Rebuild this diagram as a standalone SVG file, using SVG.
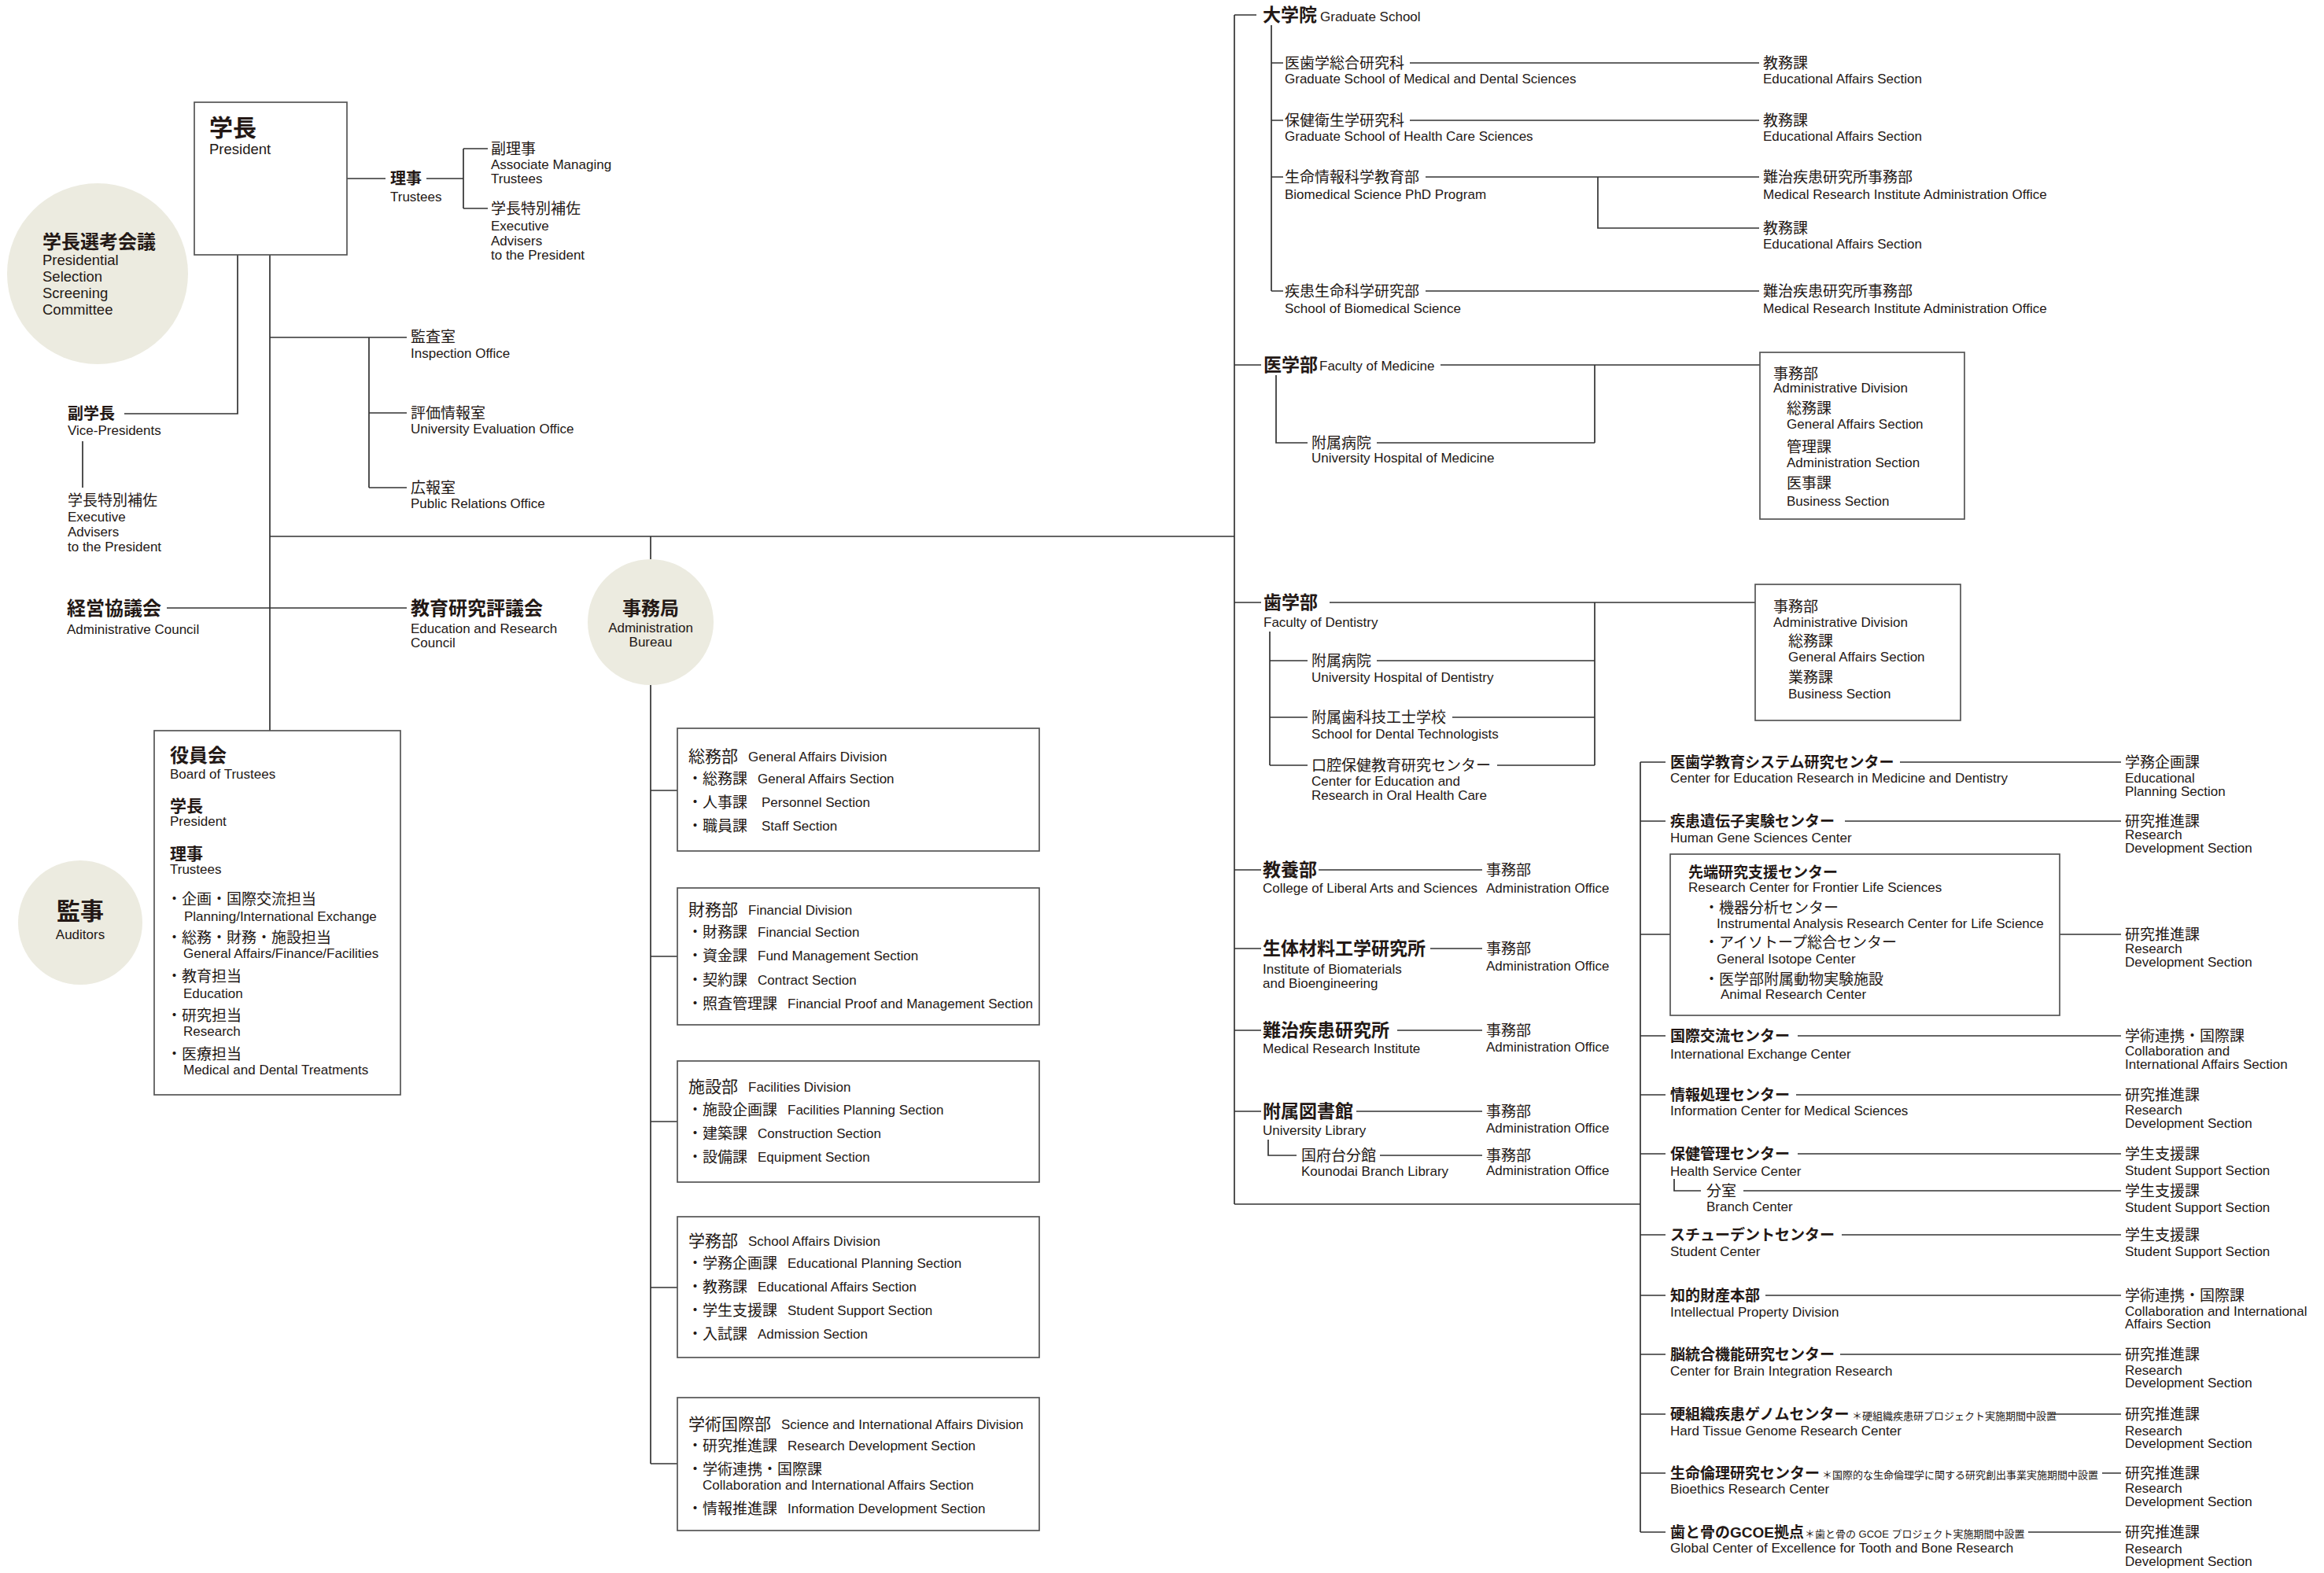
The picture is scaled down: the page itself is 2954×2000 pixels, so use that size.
<svg xmlns="http://www.w3.org/2000/svg" width="2954" height="2000" viewBox="0 0 2954 2000">
<style>
text{font-family:"Liberation Sans","Noto Sans CJK JP",sans-serif;fill:#231815;dominant-baseline:central;font-size:19px}
.e{font-size:17px}
.b{font-weight:bold}
.n{font-size:13px}
.m{text-anchor:middle}
.ln{stroke:#333;stroke-width:1.7;fill:none}
.bx{fill:#fff;stroke:#555;stroke-width:1.7}
.c{fill:#ecebe0}
</style>
<rect width="2954" height="2000" fill="#fff"/>
<g id="connectors">
<path class="ln" d="M441 227H490M542 227H589M589 189V265M589 189H620M589 265H620"/>
<path class="ln" d="M302 324V526H158M105 561V620"/>
<path class="ln" d="M343 324V929M343 429H517M469 429V620M469 525H517M469 620H517"/>
<path class="ln" d="M343 682H1569M212 773H517"/>
<path class="ln" d="M827 682V711M827 870V1861M827 1005H861M827 1216H861M827 1426H861M827 1637H861M827 1861H861"/>
<path class="ln" d="M1569 19V1531M1569 19H1597M1616 32V370M1616 80H1631M1616 153H1631M1616 225H1631M1616 370H1631"/>
<path class="ln" d="M1792 80H2236M1792 153H2236M1812 225H2236M2031 225V290H2236M1812 370H2236"/>
<path class="ln" d="M1569 464H1603M1831 464H2237M2027 464V563M1750 563H2027M1622 477V563H1662"/>
<path class="ln" d="M1569 766H1603M1690 766H2231M2027 766V973M1614 803V973M1614 840H1662M1614 912H1662M1614 973H1662M1750 840H2027M1846 912H2027M1903 973H2027"/>
<path class="ln" d="M1569 1106H1603M1676 1106H1884M1569 1206H1603M1818 1206H1884M1569 1310H1603M1776 1310H1884M1569 1413H1603M1724 1413H1884M1612 1449V1469H1648M1754 1469H1884"/>
<path class="ln" d="M1569 1531H2085M2085 969V1948"/>
<path class="ln" d="M2085 969H2117M2415 969H2696M2085 1044H2117M2345 1044H2696M2085 1188H2123M2618 1188H2696M2085 1317H2117M2285 1317H2696M2085 1392H2117M2283 1392H2696M2085 1467H2117M2285 1467H2696M2128 1499V1514H2162M2216 1514H2696M2085 1570H2117M2341 1570H2696M2085 1647H2117M2244 1647H2696M2085 1722H2117M2339 1722H2696M2085 1798H2117M2610 1798H2696M2085 1873H2117M2672 1873H2696M2085 1948H2117M2578 1948H2696"/>
</g>
<g id="president"><rect class="bx" x="247" y="130" width="194" height="194"/><text class="b" x="266" y="162" style="font-size:30px">学長</text><text x="266" y="189" style="font-size:18.5px">President</text></g>
<g id="trustees"><text class="b" x="496" y="227" style="font-size:20px">理事</text><text class="e" x="496" y="250">Trustees</text></g>
<g id="associate-managing-trustees"><text x="624" y="189">副理事</text><text class="e" x="624" y="209">Associate Managing</text><text class="e" x="624" y="227">Trustees</text></g>
<g id="executive-advisers-1"><text x="624" y="265">学長特別補佐</text><text class="e" x="624" y="287">Executive</text><text class="e" x="624" y="306">Advisers</text><text class="e" x="624" y="324">to the President</text></g>
<g id="selection-committee"><circle class="c" cx="124" cy="348" r="115"/><text class="b" x="54" y="307" style="font-size:24px">学長選考会議</text><text x="54" y="330" style="font-size:18.5px">Presidential</text><text x="54" y="351" style="font-size:18.5px">Selection</text><text x="54" y="372" style="font-size:18.5px">Screening</text><text x="54" y="393" style="font-size:18.5px">Committee</text></g>
<g id="vice-presidents"><text class="b" x="86" y="526" style="font-size:20px">副学長</text><text class="e" x="86" y="547">Vice-Presidents</text></g>
<g id="executive-advisers-2"><text x="86" y="636">学長特別補佐</text><text class="e" x="86" y="657">Executive</text><text class="e" x="86" y="676">Advisers</text><text class="e" x="86" y="695">to the President</text></g>
<g id="inspection-office"><text x="522" y="428">監査室</text><text class="e" x="522" y="449">Inspection Office</text></g>
<g id="evaluation-office"><text x="522" y="525">評価情報室</text><text class="e" x="522" y="545">University Evaluation Office</text></g>
<g id="public-relations-office"><text x="522" y="620">広報室</text><text class="e" x="522" y="640">Public Relations Office</text></g>
<g id="administrative-council"><text class="b" x="85" y="773" style="font-size:24px">経営協議会</text><text class="e" x="85" y="800">Administrative Council</text></g>
<g id="education-research-council"><text class="b" x="522" y="773" style="font-size:24px">教育研究評議会</text><text class="e" x="522" y="799">Education and Research</text><text class="e" x="522" y="817">Council</text></g>
<g id="administration-bureau"><circle class="c" cx="827" cy="791" r="80"/><text class="b m" x="827" y="773" style="font-size:24px">事務局</text><text class="e m" x="827" y="798">Administration</text><text class="e m" x="827" y="816">Bureau</text></g>
<g id="board-of-trustees"><rect class="bx" x="196" y="929" width="313" height="463"/>
<text class="b" x="216" y="960" style="font-size:24px">役員会</text><text class="e" x="216" y="984">Board of Trustees</text>
<text class="b" x="216" y="1024" style="font-size:21px">学長</text><text class="e" x="216" y="1044">President</text>
<text class="b" x="216" y="1085" style="font-size:21px">理事</text><text class="e" x="216" y="1105">Trustees</text>
<text x="212" y="1143">・企画・国際交流担当</text><text class="e" x="234" y="1165">Planning/International Exchange</text>
<text x="212" y="1192">・総務・財務・施設担当</text><text class="e" x="233" y="1212">General Affairs/Finance/Facilities</text>
<text x="212" y="1241">・教育担当</text><text class="e" x="233" y="1263">Education</text>
<text x="212" y="1291">・研究担当</text><text class="e" x="233" y="1311">Research</text>
<text x="212" y="1340">・医療担当</text><text class="e" x="233" y="1360">Medical and Dental Treatments</text></g>
<g id="auditors"><circle class="c" cx="102" cy="1173" r="79"/><text class="b m" x="102" y="1158" style="font-size:30px">監事</text><text class="e m" x="102" y="1188">Auditors</text></g>
<g id="general-affairs-division"><rect class="bx" x="861" y="926" width="460" height="156"/>
<text x="875" y="961" style="font-size:21px">総務部</text><text class="e" x="951" y="962">General Affairs Division</text>
<text x="874" y="990">・総務課</text><text class="e" x="963" y="990">General Affairs Section</text>
<text x="874" y="1020">・人事課</text><text class="e" x="968" y="1020">Personnel Section</text>
<text x="874" y="1050">・職員課</text><text class="e" x="968" y="1050">Staff Section</text></g>
<g id="financial-division"><rect class="bx" x="861" y="1129" width="460" height="174"/>
<text x="875" y="1156" style="font-size:21px">財務部</text><text class="e" x="951" y="1157">Financial Division</text>
<text x="874" y="1185">・財務課</text><text class="e" x="963" y="1185">Financial Section</text>
<text x="874" y="1215">・資金課</text><text class="e" x="963" y="1215">Fund Management Section</text>
<text x="874" y="1246">・契約課</text><text class="e" x="963" y="1246">Contract Section</text>
<text x="874" y="1276">・照査管理課</text><text class="e" x="1001" y="1276">Financial Proof and Management Section</text></g>
<g id="facilities-division"><rect class="bx" x="861" y="1349" width="460" height="154"/>
<text x="875" y="1381" style="font-size:21px">施設部</text><text class="e" x="951" y="1382">Facilities Division</text>
<text x="874" y="1411">・施設企画課</text><text class="e" x="1001" y="1411">Facilities Planning Section</text>
<text x="874" y="1441">・建築課</text><text class="e" x="963" y="1441">Construction Section</text>
<text x="874" y="1471">・設備課</text><text class="e" x="963" y="1471">Equipment Section</text></g>
<g id="school-affairs-division"><rect class="bx" x="861" y="1547" width="460" height="179"/>
<text x="875" y="1577" style="font-size:21px">学務部</text><text class="e" x="951" y="1578">School Affairs Division</text>
<text x="874" y="1606">・学務企画課</text><text class="e" x="1001" y="1606">Educational Planning Section</text>
<text x="874" y="1636">・教務課</text><text class="e" x="963" y="1636">Educational Affairs Section</text>
<text x="874" y="1666">・学生支援課</text><text class="e" x="1001" y="1666">Student Support Section</text>
<text x="874" y="1696">・入試課</text><text class="e" x="963" y="1696">Admission Section</text></g>
<g id="science-international-division"><rect class="bx" x="861" y="1777" width="460" height="169"/>
<text x="875" y="1810" style="font-size:21px">学術国際部</text><text class="e" x="993" y="1811">Science and International Affairs Division</text>
<text x="874" y="1838">・研究推進課</text><text class="e" x="1001" y="1838">Research Development Section</text>
<text x="874" y="1868">・学術連携・国際課</text><text class="e" x="893" y="1888">Collaboration and International Affairs Section</text>
<text x="874" y="1918">・情報推進課</text><text class="e" x="1001" y="1918">Information Development Section</text></g>
<g id="graduate-school"><text class="b" x="1605" y="19" style="font-size:23px">大学院</text><text class="e" x="1678" y="21">Graduate School</text></g>
<g id="gs-medical-dental"><text x="1633" y="80">医歯学総合研究科</text><text class="e" x="1633" y="100">Graduate School of Medical and Dental Sciences</text></g>
<g id="gs-medical-dental-office"><text x="2241" y="80">教務課</text><text class="e" x="2241" y="100">Educational Affairs Section</text></g>
<g id="gs-health-care"><text x="1633" y="153">保健衛生学研究科</text><text class="e" x="1633" y="173">Graduate School of Health Care Sciences</text></g>
<g id="gs-health-care-office"><text x="2241" y="153">教務課</text><text class="e" x="2241" y="173">Educational Affairs Section</text></g>
<g id="biomedical-phd"><text x="1633" y="225">生命情報科学教育部</text><text class="e" x="1633" y="247">Biomedical Science PhD Program</text></g>
<g id="biomedical-phd-office-1"><text x="2241" y="225">難治疾患研究所事務部</text><text class="e" x="2241" y="247">Medical Research Institute Administration Office</text></g>
<g id="biomedical-phd-office-2"><text x="2241" y="290">教務課</text><text class="e" x="2241" y="310">Educational Affairs Section</text></g>
<g id="biomedical-school"><text x="1633" y="370">疾患生命科学研究部</text><text class="e" x="1633" y="392">School of Biomedical Science</text></g>
<g id="biomedical-school-office"><text x="2241" y="370">難治疾患研究所事務部</text><text class="e" x="2241" y="392">Medical Research Institute Administration Office</text></g>
<g id="faculty-medicine"><text class="b" x="1606" y="464" style="font-size:23px">医学部</text><text class="e" x="1677" y="465">Faculty of Medicine</text></g>
<g id="hospital-medicine"><text x="1667" y="563">附属病院</text><text class="e" x="1667" y="582">University Hospital of Medicine</text></g>
<g id="medicine-admin"><rect class="bx" x="2237" y="448" width="260" height="212"/>
<text x="2254" y="475">事務部</text><text class="e" x="2254" y="493">Administrative Division</text>
<text x="2271" y="519">総務課</text><text class="e" x="2271" y="539">General Affairs Section</text>
<text x="2271" y="568">管理課</text><text class="e" x="2271" y="588">Administration Section</text>
<text x="2271" y="614">医事課</text><text class="e" x="2271" y="637">Business Section</text></g>
<g id="faculty-dentistry"><text class="b" x="1606" y="766" style="font-size:23px">歯学部</text><text class="e" x="1606" y="791">Faculty of Dentistry</text></g>
<g id="hospital-dentistry"><text x="1667" y="840">附属病院</text><text class="e" x="1667" y="861">University Hospital of Dentistry</text></g>
<g id="dental-technologists"><text x="1667" y="912">附属歯科技工士学校</text><text class="e" x="1667" y="933">School for Dental Technologists</text></g>
<g id="oral-health-center"><text x="1667" y="973">口腔保健教育研究センター</text><text class="e" x="1667" y="993">Center for Education and</text><text class="e" x="1667" y="1011">Research in Oral Health Care</text></g>
<g id="dentistry-admin"><rect class="bx" x="2231" y="743" width="261" height="173"/>
<text x="2254" y="771">事務部</text><text class="e" x="2254" y="791">Administrative Division</text>
<text x="2273" y="815">総務課</text><text class="e" x="2273" y="835">General Affairs Section</text>
<text x="2273" y="861">業務課</text><text class="e" x="2273" y="882">Business Section</text></g>
<g id="liberal-arts"><text class="b" x="1605" y="1106" style="font-size:23px">教養部</text><text class="e" x="1605" y="1129">College of Liberal Arts and Sciences</text></g>
<g id="liberal-arts-office"><text x="1889" y="1106">事務部</text><text class="e" x="1889" y="1129">Administration Office</text></g>
<g id="biomaterials"><text class="b" x="1605" y="1206" style="font-size:23px">生体材料工学研究所</text><text class="e" x="1605" y="1232">Institute of Biomaterials</text><text class="e" x="1605" y="1250">and Bioengineering</text></g>
<g id="biomaterials-office"><text x="1889" y="1206">事務部</text><text class="e" x="1889" y="1228">Administration Office</text></g>
<g id="medical-research-institute"><text class="b" x="1605" y="1310" style="font-size:23px">難治疾患研究所</text><text class="e" x="1605" y="1333">Medical Research Institute</text></g>
<g id="medical-research-institute-office"><text x="1889" y="1310">事務部</text><text class="e" x="1889" y="1331">Administration Office</text></g>
<g id="library"><text class="b" x="1605" y="1413" style="font-size:23px">附属図書館</text><text class="e" x="1605" y="1437">University Library</text></g>
<g id="library-office"><text x="1889" y="1413">事務部</text><text class="e" x="1889" y="1434">Administration Office</text></g>
<g id="kounodai-library"><text x="1654" y="1469">国府台分館</text><text class="e" x="1654" y="1489">Kounodai Branch Library</text></g>
<g id="kounodai-library-office"><text x="1889" y="1469">事務部</text><text class="e" x="1889" y="1488">Administration Office</text></g>
<g id="center-education-research"><text class="b" x="2123" y="969">医歯学教育システム研究センター</text><text class="e" x="2123" y="989">Center for Education Research in Medicine and Dentistry</text></g>
<g id="center-education-research-office"><text x="2701" y="969">学務企画課</text><text class="e" x="2701" y="989">Educational</text><text class="e" x="2701" y="1006">Planning Section</text></g>
<g id="human-gene-center"><text class="b" x="2123" y="1044">疾患遺伝子実験センター</text><text class="e" x="2123" y="1065">Human Gene Sciences Center</text></g>
<g id="human-gene-center-office"><text x="2701" y="1044">研究推進課</text><text class="e" x="2701" y="1061">Research</text><text class="e" x="2701" y="1078">Development Section</text></g>
<g id="frontier-life-sciences"><rect class="bx" x="2123" y="1086" width="495" height="205"/>
<text class="b" x="2146" y="1109">先端研究支援センター</text><text class="e" x="2146" y="1128">Research Center for Frontier Life Sciences</text>
<text x="2166" y="1154">・機器分析センター</text><text class="e" x="2182" y="1174">Instrumental Analysis Research Center for Life Science</text>
<text x="2166" y="1198">・アイソトープ総合センター</text><text class="e" x="2182" y="1219">General Isotope Center</text>
<text x="2166" y="1245">・医学部附属動物実験施設</text><text class="e" x="2187" y="1264">Animal Research Center</text></g>
<g id="frontier-life-sciences-office"><text x="2701" y="1188">研究推進課</text><text class="e" x="2701" y="1206">Research</text><text class="e" x="2701" y="1223">Development Section</text></g>
<g id="international-exchange"><text class="b" x="2123" y="1317">国際交流センター</text><text class="e" x="2123" y="1340">International Exchange Center</text></g>
<g id="international-exchange-office"><text x="2701" y="1317">学術連携・国際課</text><text class="e" x="2701" y="1336">Collaboration and</text><text class="e" x="2701" y="1353">International Affairs Section</text></g>
<g id="information-center"><text class="b" x="2123" y="1392">情報処理センター</text><text class="e" x="2123" y="1412">Information Center for Medical Sciences</text></g>
<g id="information-center-office"><text x="2701" y="1392">研究推進課</text><text class="e" x="2701" y="1411">Research</text><text class="e" x="2701" y="1428">Development Section</text></g>
<g id="health-service"><text class="b" x="2123" y="1467">保健管理センター</text><text class="e" x="2123" y="1489">Health Service Center</text></g>
<g id="health-service-office"><text x="2701" y="1467">学生支援課</text><text class="e" x="2701" y="1488">Student Support Section</text></g>
<g id="branch-center"><text x="2169" y="1514">分室</text><text class="e" x="2169" y="1534">Branch Center</text></g>
<g id="branch-center-office"><text x="2701" y="1514">学生支援課</text><text class="e" x="2701" y="1535">Student Support Section</text></g>
<g id="student-center"><text class="b" x="2123" y="1570">スチューデントセンター</text><text class="e" x="2123" y="1591">Student Center</text></g>
<g id="student-center-office"><text x="2701" y="1570">学生支援課</text><text class="e" x="2701" y="1591">Student Support Section</text></g>
<g id="intellectual-property"><text class="b" x="2123" y="1647">知的財産本部</text><text class="e" x="2123" y="1668">Intellectual Property Division</text></g>
<g id="intellectual-property-office"><text x="2701" y="1647">学術連携・国際課</text><text class="e" x="2701" y="1667">Collaboration and International</text><text class="e" x="2701" y="1683">Affairs Section</text></g>
<g id="brain-center"><text class="b" x="2123" y="1722">脳統合機能研究センター</text><text class="e" x="2123" y="1743">Center for Brain Integration Research</text></g>
<g id="brain-center-office"><text x="2701" y="1722">研究推進課</text><text class="e" x="2701" y="1742">Research</text><text class="e" x="2701" y="1758">Development Section</text></g>
<g id="hard-tissue-center"><text class="b" x="2123" y="1798">硬組織疾患ゲノムセンター</text><text class="n" x="2354" y="1800">＊硬組織疾患研プロジェクト実施期間中設置</text><text class="e" x="2123" y="1819">Hard Tissue Genome Research Center</text></g>
<g id="hard-tissue-center-office"><text x="2701" y="1798">研究推進課</text><text class="e" x="2701" y="1819">Research</text><text class="e" x="2701" y="1835">Development Section</text></g>
<g id="bioethics-center"><text class="b" x="2123" y="1873">生命倫理研究センター</text><text class="n" x="2316" y="1875">＊国際的な生命倫理学に関する研究創出事業実施期間中設置</text><text class="e" x="2123" y="1893">Bioethics Research Center</text></g>
<g id="bioethics-center-office"><text x="2701" y="1873">研究推進課</text><text class="e" x="2701" y="1892">Research</text><text class="e" x="2701" y="1909">Development Section</text></g>
<g id="gcoe"><text class="b" x="2123" y="1948">歯と骨のGCOE拠点</text><text class="n" x="2294" y="1950">＊歯と骨の GCOE プロジェクト実施期間中設置</text><text class="e" x="2123" y="1968">Global Center of Excellence for Tooth and Bone Research</text></g>
<g id="gcoe-office"><text x="2701" y="1948">研究推進課</text><text class="e" x="2701" y="1969">Research</text><text class="e" x="2701" y="1985">Development Section</text></g>
</svg>
